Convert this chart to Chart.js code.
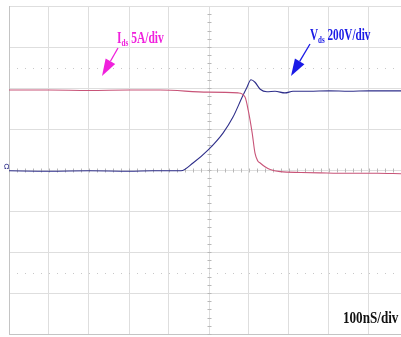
<!DOCTYPE html>
<html>
<head>
<meta charset="utf-8">
<script src="https://cdn.jsdelivr.net/npm/chart.js@4.4.1/dist/chart.umd.min.js"></script>
<style>
  html, body { margin: 0; padding: 0; background: #fff; }
  #wrap { width: 401px; height: 337px; }
</style>
</head>
<body>
<div id="wrap"><canvas id="scope"></canvas></div>
<script>
// values in screen divisions (time: 100nS/div, Vds: 200V/div, Ids: 5A/div)
const vdsTime  = [0, 1, 2, 3, 3.6, 4.3, 4.6, 4.98, 5.35, 5.6, 5.83, 5.95, 6.05, 6.15, 6.28, 6.45, 6.65, 6.9, 7.1, 7.5, 8, 8.5, 9, 9.8];
const vdsLevel = [-0.02, -0.03, -0.02, -0.03, -0.02, -0.02, 0.17, 0.49, 0.9, 1.29, 1.78, 2.02, 2.2, 2.14, 1.97, 1.91, 1.92, 1.88, 1.92, 1.92, 1.93, 1.92, 1.93, 1.93];

const idsTime  = [0, 1, 2, 3, 3.78, 4.98, 5.73, 5.9, 5.98, 6.08, 6.15, 6.22, 6.28, 6.4, 6.53, 6.78, 7.3, 7.78, 8.5, 9.2, 9.8];
const idsLevel = [1.95, 1.95, 1.94, 1.95, 1.95, 1.9, 1.88, 1.78, 1.46, 0.9, 0.41, 0.22, 0.17, 0.08, 0.01, -0.04, -0.06, -0.07, -0.08, -0.08, -0.09];

const xDivs = 9.8;
const yDivs = 4;

const toPoints = (xs, ys) => xs.map((x, i) => ({ x: x, y: ys[i] }));

// dotted reference lines, centre-axis minor ticks and the scope labels
const scopeMarks = {
    id: 'scopeMarks',
    beforeDatasetsDraw(chart) {
        const { ctx, scales: { x, y } } = chart;
        ctx.save();
        ctx.fillStyle = '#c8c8c8';
        [2.5, -2.5].forEach(lv => {
            const py = Math.round(y.getPixelForValue(lv));
            for (let t = 0; t <= xDivs; t += 0.2) {
                ctx.fillRect(Math.round(x.getPixelForValue(t)), py, 1, 1);
            }
        });
        ctx.strokeStyle = '#b8b8b8';
        ctx.lineWidth = 1;
        const cy = Math.round(y.getPixelForValue(0)) + 0.5;
        const cx = Math.round(x.getPixelForValue(5)) + 0.5;
        ctx.beginPath();
        for (let t = 0; t <= xDivs; t += 0.2) {
            const px = Math.round(x.getPixelForValue(t)) + 0.5;
            ctx.moveTo(px, cy - 2); ctx.lineTo(px, cy + 2);
        }
        for (let v = -yDivs; v <= yDivs; v += 0.2) {
            const py = Math.round(y.getPixelForValue(v)) + 0.5;
            ctx.moveTo(cx - 2, py); ctx.lineTo(cx + 2, py);
        }
        ctx.stroke();
        ctx.restore();
    },
    afterDraw(chart) {
        const ctx = chart.ctx;
        const font = (s) => 'bold ' + s + 'px "Liberation Serif", "Times New Roman", serif';

        function label(x, base, parts, color, sx) {
            ctx.save();
            ctx.translate(x, base);
            ctx.scale(sx, 1);
            ctx.fillStyle = color;
            ctx.textBaseline = 'alphabetic';
            let cur = 0;
            parts.forEach(p => {
                ctx.font = font(p[1]);
                ctx.fillText(p[0], cur, p[2]);
                cur += ctx.measureText(p[0]).width;
            });
            ctx.restore();
        }

        function arrow(x0, y0, x1, y1, color) {
            const a = Math.atan2(y1 - y0, x1 - x0);
            const len = 17, half = 5.5;
            const bx = x1 - len * Math.cos(a), by = y1 - len * Math.sin(a);
            ctx.save();
            ctx.strokeStyle = color;
            ctx.fillStyle = color;
            ctx.lineWidth = 1.3;
            ctx.beginPath();
            ctx.moveTo(x0, y0); ctx.lineTo(bx, by);
            ctx.stroke();
            ctx.beginPath();
            ctx.moveTo(x1, y1);
            ctx.lineTo(bx + half * Math.sin(a), by - half * Math.cos(a));
            ctx.lineTo(bx - half * Math.sin(a), by + half * Math.cos(a));
            ctx.closePath();
            ctx.fill();
            ctx.restore();
        }

        label(117, 43, [['I', 16, 0], ['ds', 10, 3], [' 5A/div', 16, 0]], '#f020dc', 0.72);
        arrow(118, 48, 102, 76, '#f020dc');

        label(310, 40, [['V', 16, 0], ['ds', 10, 3], [' 200V/div', 16, 0]], '#1a1ae6', 0.7);
        arrow(310, 44, 291, 76, '#1a1ae6');

        label(343, 323, [['100nS/div', 16, 0]], '#111111', 0.82);

        ctx.save();
        ctx.font = '7px "DejaVu Sans", sans-serif';
        ctx.fillStyle = '#2b2b88';
        ctx.fillText('Ω', 4, 169);
        ctx.restore();
    }
};

const ctx = document.getElementById('scope').getContext('2d');
const scopeChart = new Chart(ctx, {
    type: 'scatter',
    data: {
        datasets: [{
            label: 'Ids',
            data: toPoints(idsTime, idsLevel),
            showLine: true,
            borderColor: '#c85478',
            borderWidth: 1.1,
            pointRadius: 0,
            cubicInterpolationMode: 'monotone'
        }, {
            label: 'Vds',
            data: toPoints(vdsTime, vdsLevel),
            showLine: true,
            borderColor: '#2e2e8a',
            borderWidth: 1.1,
            pointRadius: 0,
            cubicInterpolationMode: 'monotone'
        }]
    },
    options: {
        responsive: true,
        maintainAspectRatio: false,
        animation: false,
        layout: { padding: { left: 9, top: 6, right: 0, bottom: 3 } },
        plugins: {
            legend: { display: false },
            tooltip: { enabled: false }
        },
        scales: {
            x: {
                type: 'linear',
                min: 0,
                max: xDivs,
                ticks: { display: false, stepSize: 1 },
                grid: {
                    drawTicks: false,
                    color: (c) => Number.isInteger(c.tick.value) ? '#dedede' : 'rgba(0,0,0,0)'
                },
                border: { display: true, color: '#c4c4c4' }
            },
            y: {
                min: -yDivs,
                max: yDivs,
                ticks: { display: false, stepSize: 1 },
                grid: { drawTicks: false, color: '#dedede' },
                border: { display: true, color: '#c4c4c4' }
            }
        }
    },
    plugins: [scopeMarks]
});
</script>
</body>
</html>
